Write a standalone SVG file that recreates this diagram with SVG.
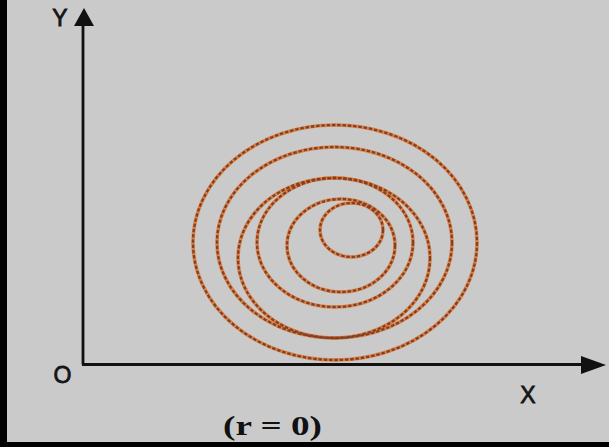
<svg xmlns="http://www.w3.org/2000/svg" width="609" height="447" viewBox="0 0 609 447">
  <style>
    .halo { fill: none; stroke: #e07a38; stroke-width: 3.6; stroke-opacity: 0.9; }
    .dash { fill: none; stroke: #7e4228; stroke-width: 2.3; stroke-dasharray: 3.4 1.9; }
    .axis { stroke: #111; stroke-width: 2.8; fill: none; }
    .lbl { font-family: "Liberation Sans", Arial, sans-serif; font-size: 23px; fill: #151515; stroke: #151515; stroke-width: 0.8; text-anchor: middle; }
    .cap { font-family: "Liberation Serif", "Times New Roman", serif; font-size: 27px; font-weight: bold; fill: #111; }
  </style>
  <defs>
    <g id="rings">
      <ellipse cx="335" cy="242.5" rx="142" ry="117.5"/>
      <ellipse cx="334.5" cy="242.5" rx="117.5" ry="95.5"/>
      <ellipse cx="334" cy="258" rx="96" ry="80"/>
      <ellipse cx="335" cy="242.5" rx="78" ry="64.5"/>
      <ellipse cx="341" cy="245.5" rx="54" ry="46.5"/>
      <ellipse cx="351.5" cy="230" rx="31.5" ry="27"/>
    </g>
  </defs>
  <rect x="0" y="0" width="609" height="447" fill="#000"/>
  <rect x="7" y="0" width="602" height="442" fill="#cacaca"/>

  <g id="spiral">
    <use href="#rings" class="halo"/>
    <use href="#rings" class="dash"/>
  </g>

  <g id="connectors">
    <line class="axis" x1="83" y1="364.5" x2="83" y2="22"/>
    <polygon points="84,8 74,26 94,26" fill="#111"/>
    <line class="axis" x1="82" y1="364.5" x2="585" y2="364.5"/>
    <polygon points="606,365 581,356 581,374" fill="#111"/>
  </g>

  <g id="label-y"><text class="lbl" x="60" y="26">Y</text></g>
  <g id="label-o"><text class="lbl" x="62.5" y="383">O</text></g>
  <g id="label-x"><text class="lbl" x="528" y="403">X</text></g>
  <g id="caption"><text class="cap" x="223" y="435" textLength="99" lengthAdjust="spacingAndGlyphs">(r = 0)</text></g>
</svg>
